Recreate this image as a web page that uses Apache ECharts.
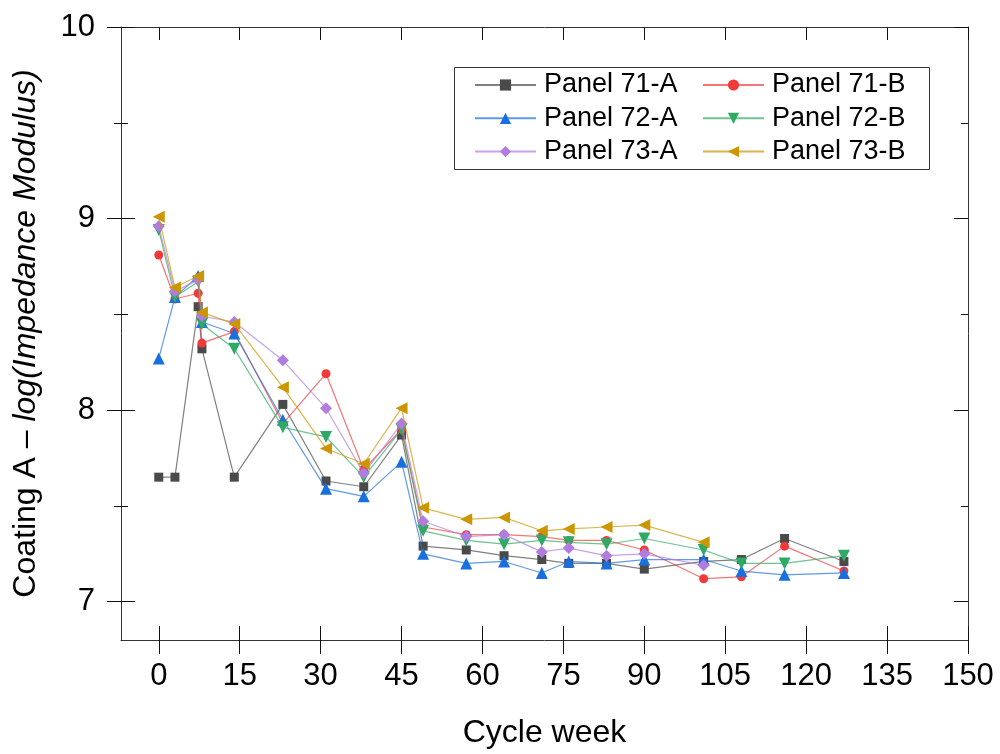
<!DOCTYPE html>
<html><head><meta charset="utf-8">
<script src="https://cdn.jsdelivr.net/npm/echarts@6/dist/echarts.min.js"></script>
<style>html,body{margin:0;padding:0;background:#fff}#c{width:1000px;height:754px}</style>
</head><body><div id="c"></div>
<script>
// ---- data ----
const weeks = [0, 3, 7.3, 8, 14, 23, 31, 38, 45, 49, 57, 64, 71, 76, 83, 90, 101, 108, 116, 127];
const panel71A = [7.65, 7.65, 8.54, 8.32, 7.65, 8.03, 7.63, 7.60, 7.87, 7.29, 7.27, 7.24, 7.22, 7.20, 7.20, 7.17, 7.21, 7.22, 7.33, 7.21];
const panel71B = [8.81, 8.58, 8.61, 8.35, 8.41, 7.93, 8.19, 7.69, 7.90, 7.39, 7.35, 7.35, 7.34, 7.32, 7.32, 7.27, 7.12, 7.13, 7.29, 7.16];
const panel72A = [8.27, 8.59, 8.70, 8.46, 8.40, 7.95, 7.59, 7.55, 7.73, 7.25, 7.20, 7.21, 7.15, 7.21, 7.20, 7.22, 7.22, 7.16, 7.14, 7.15];
const panel72B = [8.94, 8.59, 8.67, 8.45, 8.32, 7.91, 7.86, 7.65, 7.90, 7.37, 7.32, 7.30, 7.32, 7.31, 7.30, 7.33, 7.27, 7.20, 7.20, 7.24];
const panel73A = [8.96, 8.62, 8.68, 8.49, 8.46, 8.26, 8.01, 7.67, 7.93, 7.42, 7.34, 7.35, 7.26, 7.28, 7.24, 7.25, 7.19];
const panel73B = [9.01, 8.64, 8.70, 8.51, 8.45, 8.12, 7.80, 7.72, 8.01, 7.49, 7.43, 7.44, 7.37, 7.38, 7.39, 7.40, 7.31];
const seriesNames = ['Panel 71-A', 'Panel 71-B', 'Panel 72-A', 'Panel 72-B', 'Panel 73-A', 'Panel 73-B'];
const xTickValues = [0, 15, 30, 45, 60, 75, 90, 105, 120, 135, 150];
const yTickValues = [7, 8, 9, 10];
const yMinorTickValues = [7.5, 8.5, 9.5];
const xName = 'Cycle week';
const yNamePlain = 'Coating A – ';
const yNameItalic = 'log(Impedance Modulus)';

// ---- styling ----
const FONT = '"Liberation Sans", Arial, sans-serif';
const styles = [
  { color: '#4a4a4a', symbol: 'rect', size: 9, rotate: 0 },
  { color: '#f03a3a', symbol: 'circle', size: 9, rotate: 0 },
  { color: '#1a6fdf', symbol: 'triangle', size: 12, rotate: 0 },
  { color: '#2faa64', symbol: 'triangle', size: 12, rotate: 180 },
  { color: '#b07ce0', symbol: 'diamond', size: 12, rotate: 0 },
  { color: '#cc9600', symbol: 'triangle', size: 12, rotate: 90 }
];
const values = [panel71A, panel71B, panel72A, panel72B, panel73A, panel73B];

function pairs(vals) { return vals.map((v, i) => [weeks[i], v]); }

const series = seriesNames.map((name, i) => ({
  name: name,
  type: 'line',
  xAxisIndex: 0,
  yAxisIndex: 0,
  data: pairs(values[i]),
  symbol: styles[i].symbol,
  symbolSize: styles[i].size,
  symbolRotate: styles[i].rotate,
  itemStyle: { color: styles[i].color, opacity: 1 },
  lineStyle: { color: styles[i].color, width: 1.2, opacity: 0.7 },
  z: 2 + i,
  animation: false
}));

const tickColor = '#111';
function xAx(extra) {
  return Object.assign({
    type: 'value', min: -7, max: 150, gridIndex: 0,
    splitLine: { show: false },
    axisLabel: { show: false },
    axisLine: { show: false, onZero: false },
    axisTick: { show: false }
  }, extra);
}
function yAx(extra) {
  return Object.assign({
    type: 'value', min: 6.8, max: 10, gridIndex: 0,
    splitLine: { show: false },
    axisLabel: { show: false },
    axisLine: { show: false, onZero: false },
    axisTick: { show: false }
  }, extra);
}

const option = {
  backgroundColor: '#fff',
  animation: false,
  grid: { left: 121, right: 32, top: 27, bottom: 111, containLabel: false },
  xAxis: [
    xAx({
      position: 'bottom',
      name: xName, nameLocation: 'middle', nameGap: 77,
      nameTextStyle: { fontSize: 32, color: '#000', fontFamily: FONT },
      axisLine: { show: true, onZero: false, lineStyle: { color: '#333', width: 1 } },
      axisTick: { show: true, inside: false, length: 14, customValues: xTickValues, lineStyle: { color: tickColor, width: 1 } },
      axisLabel: { show: true, customValues: xTickValues, fontSize: 31, margin: 21, color: '#000', fontFamily: FONT }
    }),
    xAx({
      position: 'bottom',
      axisTick: { show: true, inside: true, length: 14, customValues: xTickValues, lineStyle: { color: tickColor, width: 1 } }
    }),
    xAx({
      position: 'top',
      axisLine: { show: true, onZero: false, lineStyle: { color: '#333', width: 1 } },
      axisTick: { show: true, inside: true, length: 13, customValues: xTickValues, lineStyle: { color: tickColor, width: 1 } }
    })
  ],
  yAxis: [
    yAx({
      position: 'left',
      name: '{a|' + yNamePlain + '}{b|' + yNameItalic + '}',
      nameLocation: 'middle', nameGap: 79,
      nameTextStyle: {
        color: '#000', fontFamily: FONT, fontSize: 32,
        rich: {
          a: { fontSize: 32, color: '#000', fontFamily: FONT },
          b: { fontSize: 32, color: '#000', fontFamily: FONT, fontStyle: 'italic' }
        }
      },
      axisLine: { show: true, onZero: false, lineStyle: { color: '#333', width: 1 } },
      axisTick: { show: true, inside: false, length: 14, customValues: yTickValues, lineStyle: { color: tickColor, width: 1 } },
      axisLabel: { show: true, customValues: yTickValues, fontSize: 31, margin: 26, color: '#000', fontFamily: FONT }
    }),
    yAx({
      position: 'left',
      axisTick: { show: true, inside: true, length: 14, customValues: yTickValues, lineStyle: { color: tickColor, width: 1 } }
    }),
    yAx({
      position: 'left',
      axisTick: { show: true, inside: false, length: 7, customValues: yMinorTickValues, lineStyle: { color: tickColor, width: 1 } }
    }),
    yAx({
      position: 'left',
      axisTick: { show: true, inside: true, length: 7, customValues: yMinorTickValues, lineStyle: { color: tickColor, width: 1 } }
    }),
    yAx({
      position: 'right',
      axisLine: { show: true, onZero: false, lineStyle: { color: '#333', width: 1 } },
      axisTick: { show: true, inside: true, length: 14, customValues: yTickValues, lineStyle: { color: tickColor, width: 1 } }
    }),
    yAx({
      position: 'right',
      axisTick: { show: true, inside: true, length: 7, customValues: yMinorTickValues, lineStyle: { color: tickColor, width: 1 } }
    })
  ],
  legend: [
    {
      data: [seriesNames[0], seriesNames[2], seriesNames[4]],
      orient: 'vertical', left: 474, top: 71.5, padding: 0,
      itemWidth: 61, itemHeight: 14, itemGap: 6.3,
      textStyle: { fontSize: 27, color: '#000', fontFamily: FONT, padding: [0, 0, 0, 3] }
    },
    {
      data: [seriesNames[1], seriesNames[3], seriesNames[5]],
      orient: 'vertical', left: 702, top: 71.5, padding: 0,
      itemWidth: 61, itemHeight: 14, itemGap: 6.3,
      textStyle: { fontSize: 27, color: '#000', fontFamily: FONT, padding: [0, 0, 0, 3] }
    }
  ],
  graphic: [
    {
      type: 'rect', left: 452, top: 65, z: 100, silent: true,
      shape: { width: 475, height: 102 },
      style: { fill: 'none', stroke: '#333', lineWidth: 1 }
    }
  ],
  series: series
};

const chart = echarts.init(document.getElementById('c'), null, { renderer: 'canvas' });
chart.setOption(option);
</script>
</body></html>
